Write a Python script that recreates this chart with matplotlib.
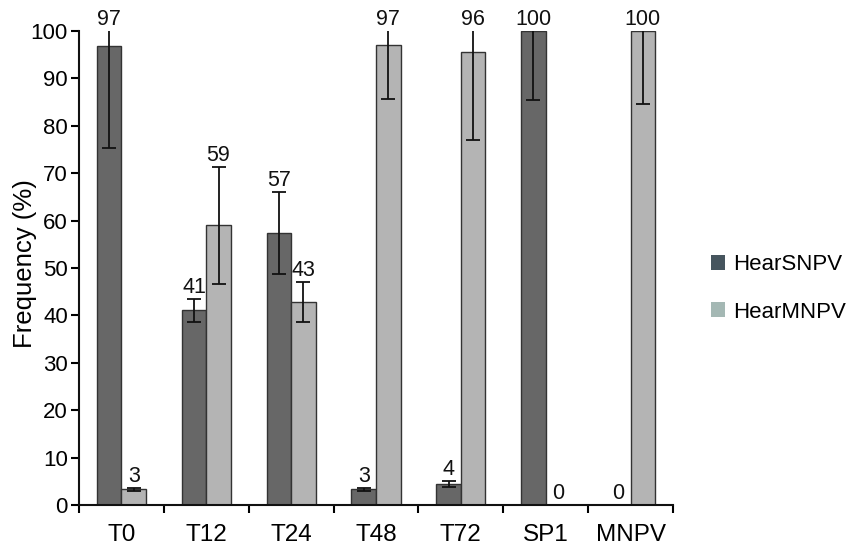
import matplotlib
matplotlib.use("Agg")
import matplotlib.pyplot as plt
import numpy as np
from matplotlib.patches import Patch

plt.rcParams['font.family'] = ['Liberation Sans', 'DejaVu Sans']

categories = ["T0", "T12", "T24", "T48", "T72", "SP1", "MNPV"]
snpv = [96.8, 41.1, 57.4, 3.3, 4.4, 100, 0]
mnpv = [3.3, 59.0, 42.8, 97.0, 95.6, 0, 100]
snpv_err = [21.5, 2.4, 8.6, 0.3, 0.6, 14.6, 0]
mnpv_err = [0.3, 12.4, 4.2, 11.4, 18.6, 0, 15.3]
snpv_lbl = ["97", "41", "57", "3", "4", "100", "0"]
mnpv_lbl = ["3", "59", "43", "97", "96", "0", "100"]
series = ["HearSNPV", "HearMNPV"]

fig = plt.figure(figsize=(8.53, 5.49), dpi=100)
ax = fig.add_axes([0.0926, 0.0801, 0.6964, 0.8634])

x = np.arange(len(categories))
w = 0.289
dark = "#676767"
light = "#b4b4b4"
edge = "#333333"

ax.bar(x - w/2, snpv, w, color=dark, edgecolor=edge, linewidth=1.0, zorder=2)
ax.bar(x + w/2, mnpv, w, color=light, edgecolor=edge, linewidth=1.0, zorder=2)

for xs, vals, errs in [(x - w/2, snpv, snpv_err), (x + w/2, mnpv, mnpv_err)]:
    for xi, v, e in zip(xs, vals, errs):
        if e > 0:
            ax.errorbar(xi, v, yerr=e, fmt='none', ecolor='#111111',
                        elinewidth=1.3, capsize=5, capthick=1.3, zorder=3)

for xs, vals, errs, lbls in [(x - w/2, snpv, snpv_err, snpv_lbl), (x + w/2, mnpv, mnpv_err, mnpv_lbl)]:
    for xi, v, e, l in zip(xs, vals, errs, lbls):
        top = min(v + e, 100)
        ax.text(xi, top + 0.2, l, ha='center', va='bottom', fontsize=15.5,
                color='#111111', clip_on=False)

ax.set_xlim(-0.5, len(categories) - 0.5)
ax.set_ylim(0, 100)
ax.set_yticks(np.arange(0, 101, 10))
ax.set_xticks(np.arange(-0.5, len(categories), 1.0))
ax.set_xticklabels([])
ax.set_xticks(x, minor=True)
ax.set_xticklabels(categories, minor=True)
ax.tick_params(axis='x', which='minor', length=0, pad=14, labelsize=17.5)
ax.tick_params(axis='x', which='major', length=6, width=1.5, direction='out')
ax.tick_params(axis='y', length=6, width=1.5, labelsize=16, pad=2)

for s in ['top', 'right']:
    ax.spines[s].set_visible(False)
for s in ['left', 'bottom']:
    ax.spines[s].set_linewidth(1.5)
    ax.spines[s].set_color('#111111')

ax.set_ylabel("Frequency (%)", fontsize=18.5)
ax.yaxis.set_label_coords(-0.07, 0.51)

handles = [Patch(facecolor="#46555e", edgecolor='none'),
           Patch(facecolor="#a4b8b4", edgecolor='none')]
fig.legend(handles, series, loc='center left', bbox_to_anchor=(0.81, 0.475),
           frameon=False, fontsize=16, handlelength=0.65, handleheight=0.65,
           handletextpad=0.35, labelspacing=1.2)

fig.savefig("out.png", dpi=100)
